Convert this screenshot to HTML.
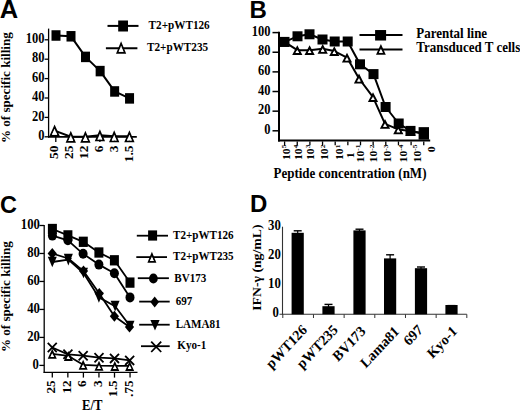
<!DOCTYPE html>
<html><head><meta charset="utf-8"><style>
html,body{margin:0;padding:0;background:#fff;}
svg{display:block;}
</style></head><body>
<svg width="520" height="411" viewBox="0 0 520 411">
<rect width="520" height="411" fill="#fff"/>
<text transform="translate(-0.20,17.80)" text-anchor="start" style="font-family:'Liberation Sans',sans-serif;font-weight:bold;font-size:25.5px" >A</text>
<text transform="translate(249.60,18.30)" text-anchor="start" style="font-family:'Liberation Sans',sans-serif;font-weight:bold;font-size:24px" >B</text>
<text transform="translate(0.00,212.60)" text-anchor="start" style="font-family:'Liberation Sans',sans-serif;font-weight:bold;font-size:23.5px" >C</text>
<text transform="translate(249.90,212.40)" text-anchor="start" style="font-family:'Liberation Sans',sans-serif;font-weight:bold;font-size:24px" >D</text>
<line x1="48.6" y1="28.6" x2="48.6" y2="137.5" stroke="#000" stroke-width="1.3"/>
<line x1="48.0" y1="136.8" x2="136.8" y2="136.8" stroke="#000" stroke-width="1.8"/>
<line x1="44.6" y1="136.8" x2="48.6" y2="136.8" stroke="#000" stroke-width="1.3"/>
<text transform="translate(44.60,140.00) scale(1,1.13)" text-anchor="end" style="font-family:'Liberation Serif',serif;font-weight:bold;font-size:12.5px" >0</text>
<line x1="44.6" y1="117.4" x2="48.6" y2="117.4" stroke="#000" stroke-width="1.3"/>
<text transform="translate(44.60,120.60) scale(1,1.13)" text-anchor="end" style="font-family:'Liberation Serif',serif;font-weight:bold;font-size:12.5px" >20</text>
<line x1="44.6" y1="98.00" x2="48.6" y2="98.00" stroke="#000" stroke-width="1.3"/>
<text transform="translate(44.60,101.20) scale(1,1.13)" text-anchor="end" style="font-family:'Liberation Serif',serif;font-weight:bold;font-size:12.5px" >40</text>
<line x1="44.6" y1="78.60" x2="48.6" y2="78.60" stroke="#000" stroke-width="1.3"/>
<text transform="translate(44.60,81.80) scale(1,1.13)" text-anchor="end" style="font-family:'Liberation Serif',serif;font-weight:bold;font-size:12.5px" >60</text>
<line x1="44.6" y1="59.20" x2="48.6" y2="59.20" stroke="#000" stroke-width="1.3"/>
<text transform="translate(44.60,62.40) scale(1,1.13)" text-anchor="end" style="font-family:'Liberation Serif',serif;font-weight:bold;font-size:12.5px" >80</text>
<line x1="44.6" y1="39.80" x2="48.6" y2="39.80" stroke="#000" stroke-width="1.3"/>
<text transform="translate(44.60,43.00) scale(1,1.13)" text-anchor="end" style="font-family:'Liberation Serif',serif;font-weight:bold;font-size:12.5px" >100</text>
<line x1="55.8" y1="137" x2="55.8" y2="142" stroke="#000" stroke-width="1.3"/>
<text transform="translate(58.40,145.60) scale(1,1.13) rotate(-90)" text-anchor="end" style="font-family:'Liberation Serif',serif;font-weight:bold;font-size:11.8px" >50</text>
<line x1="70.5" y1="137" x2="70.5" y2="142" stroke="#000" stroke-width="1.3"/>
<text transform="translate(73.26,145.60) scale(1,1.13) rotate(-90)" text-anchor="end" style="font-family:'Liberation Serif',serif;font-weight:bold;font-size:11.8px" >25</text>
<line x1="85.19" y1="137" x2="85.19" y2="142" stroke="#000" stroke-width="1.3"/>
<text transform="translate(88.12,145.60) scale(1,1.13) rotate(-90)" text-anchor="end" style="font-family:'Liberation Serif',serif;font-weight:bold;font-size:11.8px" >12</text>
<line x1="99.89" y1="137" x2="99.89" y2="142" stroke="#000" stroke-width="1.3"/>
<text transform="translate(102.98,145.60) scale(1,1.13) rotate(-90)" text-anchor="end" style="font-family:'Liberation Serif',serif;font-weight:bold;font-size:11.8px" >6</text>
<line x1="114.6" y1="137" x2="114.6" y2="142" stroke="#000" stroke-width="1.3"/>
<text transform="translate(117.84,145.60) scale(1,1.13) rotate(-90)" text-anchor="end" style="font-family:'Liberation Serif',serif;font-weight:bold;font-size:11.8px" >3</text>
<line x1="129.3" y1="137" x2="129.3" y2="142" stroke="#000" stroke-width="1.3"/>
<text transform="translate(132.70,145.60) scale(1,1.13) rotate(-90)" text-anchor="end" style="font-family:'Liberation Serif',serif;font-weight:bold;font-size:11.8px" >1.5</text>
<text transform="translate(9.60,143.10) scale(1,1.13) rotate(-90)" text-anchor="start" style="font-family:'Liberation Serif',serif;font-weight:bold;font-size:11.6px" >% of specific killing</text>
<polyline points="56,35.5 71,36.3 85.5,56.9 100.15,71.1 114.65,91.45 129.55,98.4" fill="none" stroke="#000" stroke-width="2" stroke-linejoin="round"/>
<rect x="51.5" y="30.25" width="9" height="10.5" fill="#000"/>
<rect x="66.5" y="31.04" width="9" height="10.5" fill="#000"/>
<rect x="81.0" y="51.65" width="9" height="10.5" fill="#000"/>
<rect x="95.65" y="65.85" width="9" height="10.5" fill="#000"/>
<rect x="110.15" y="86.2" width="9" height="10.5" fill="#000"/>
<rect x="125.05" y="93.15" width="9" height="10.5" fill="#000"/>
<polyline points="54.6,130.6 70.8,136.8 85.4,136.8 99.9,135.3 114.2,136.3 129.4,136.3" fill="none" stroke="#000" stroke-width="2" stroke-linejoin="round"/>
<path d="M54.60,124.60 L60.00,136.60 L49.20,136.60 Z M54.60,128.99 L57.22,134.80 L51.98,134.80 Z" fill="#000" fill-rule="evenodd"/>
<polygon points="54.60,128.99 57.22,134.80 51.98,134.80" fill="#fff"/>
<path d="M70.80,130.80 L75.95,142.80 L65.65,142.80 Z M70.80,135.36 L73.22,141.00 L68.38,141.00 Z" fill="#000" fill-rule="evenodd"/>
<polygon points="70.80,135.36 73.22,141.00 68.38,141.00" fill="#fff"/>
<path d="M85.40,130.80 L90.55,142.80 L80.25,142.80 Z M85.40,135.36 L87.82,141.00 L82.98,141.00 Z" fill="#000" fill-rule="evenodd"/>
<polygon points="85.40,135.36 87.82,141.00 82.98,141.00" fill="#fff"/>
<path d="M99.90,129.30 L105.05,141.30 L94.75,141.30 Z M99.90,133.86 L102.32,139.50 L97.48,139.50 Z" fill="#000" fill-rule="evenodd"/>
<polygon points="99.90,133.86 102.32,139.50 97.48,139.50" fill="#fff"/>
<path d="M114.20,130.30 L119.35,142.30 L109.05,142.30 Z M114.20,134.86 L116.62,140.50 L111.78,140.50 Z" fill="#000" fill-rule="evenodd"/>
<polygon points="114.20,134.86 116.62,140.50 111.78,140.50" fill="#fff"/>
<path d="M129.40,130.30 L134.55,142.30 L124.25,142.30 Z M129.40,134.86 L131.82,140.50 L126.98,140.50 Z" fill="#000" fill-rule="evenodd"/>
<polygon points="129.40,134.86 131.82,140.50 126.98,140.50" fill="#fff"/>
<line x1="107.5" y1="25.9" x2="138.5" y2="25.9" stroke="#000" stroke-width="2"/>
<rect x="118.19" y="20.5" width="9.8" height="11" fill="#000"/>
<text transform="translate(148.60,28.60) scale(1,1.13)" text-anchor="start" style="font-family:'Liberation Serif',serif;font-weight:bold;font-size:11.2px" >T2+pWT126</text>
<line x1="105.9" y1="48.2" x2="137.4" y2="48.2" stroke="#000" stroke-width="2"/>
<path d="M121.10,41.35 L126.20,53.65 L116.00,53.65 Z M121.10,46.05 L123.51,51.85 L118.69,51.85 Z" fill="#000" fill-rule="evenodd"/>
<polygon points="121.10,46.05 123.51,51.85 118.69,51.85" fill="#fff"/>
<text transform="translate(147.00,51.40) scale(1,1.13)" text-anchor="start" style="font-family:'Liberation Serif',serif;font-weight:bold;font-size:11.2px" >T2+pWT235</text>
<line x1="279.0" y1="31.8" x2="279.0" y2="141.4" stroke="#000" stroke-width="2.0"/>
<line x1="278.0" y1="140.4" x2="430.2" y2="140.4" stroke="#000" stroke-width="2.0"/>
<line x1="272.5" y1="32.6" x2="279.0" y2="32.6" stroke="#000" stroke-width="1.5"/>
<text transform="translate(270.40,35.80) scale(1,1.13)" text-anchor="end" style="font-family:'Liberation Serif',serif;font-weight:bold;font-size:12.5px" >100</text>
<line x1="272.5" y1="52.24" x2="279.0" y2="52.24" stroke="#000" stroke-width="1.5"/>
<text transform="translate(270.40,55.44) scale(1,1.13)" text-anchor="end" style="font-family:'Liberation Serif',serif;font-weight:bold;font-size:12.5px" >80</text>
<line x1="272.5" y1="71.88" x2="279.0" y2="71.88" stroke="#000" stroke-width="1.5"/>
<text transform="translate(270.40,75.08) scale(1,1.13)" text-anchor="end" style="font-family:'Liberation Serif',serif;font-weight:bold;font-size:12.5px" >60</text>
<line x1="272.5" y1="91.52" x2="279.0" y2="91.52" stroke="#000" stroke-width="1.5"/>
<text transform="translate(270.40,94.72) scale(1,1.13)" text-anchor="end" style="font-family:'Liberation Serif',serif;font-weight:bold;font-size:12.5px" >40</text>
<line x1="272.5" y1="111.16" x2="279.0" y2="111.16" stroke="#000" stroke-width="1.5"/>
<text transform="translate(270.40,114.36) scale(1,1.13)" text-anchor="end" style="font-family:'Liberation Serif',serif;font-weight:bold;font-size:12.5px" >20</text>
<line x1="272.5" y1="130.8" x2="279.0" y2="130.8" stroke="#000" stroke-width="1.5"/>
<text transform="translate(270.40,134.00) scale(1,1.13)" text-anchor="end" style="font-family:'Liberation Serif',serif;font-weight:bold;font-size:12.5px" >0</text>
<line x1="284.6" y1="141.4" x2="284.6" y2="145.3" stroke="#000" stroke-width="1.3"/>
<line x1="297.25" y1="141.4" x2="297.25" y2="145.3" stroke="#000" stroke-width="1.3"/>
<line x1="309.90" y1="141.4" x2="309.90" y2="145.3" stroke="#000" stroke-width="1.3"/>
<line x1="322.55" y1="141.4" x2="322.55" y2="145.3" stroke="#000" stroke-width="1.3"/>
<line x1="335.20" y1="141.4" x2="335.20" y2="145.3" stroke="#000" stroke-width="1.3"/>
<line x1="347.85" y1="141.4" x2="347.85" y2="145.3" stroke="#000" stroke-width="1.3"/>
<line x1="360.5" y1="141.4" x2="360.5" y2="145.3" stroke="#000" stroke-width="1.3"/>
<line x1="373.15" y1="141.4" x2="373.15" y2="145.3" stroke="#000" stroke-width="1.3"/>
<line x1="385.8" y1="141.4" x2="385.8" y2="145.3" stroke="#000" stroke-width="1.3"/>
<line x1="398.45" y1="141.4" x2="398.45" y2="145.3" stroke="#000" stroke-width="1.3"/>
<line x1="411.1" y1="141.4" x2="411.1" y2="145.3" stroke="#000" stroke-width="1.3"/>
<line x1="423.75" y1="141.4" x2="423.75" y2="145.3" stroke="#000" stroke-width="1.3"/>
<text transform="translate(289.88,144.6) scale(1,1.13) rotate(-90)" text-anchor="end" style="font-family:'Liberation Serif',serif;font-weight:bold;font-size:10.3px">10<tspan dy="-3.8" style="font-size:6.6px">5</tspan></text>
<text transform="translate(301.88,144.6) scale(1,1.13) rotate(-90)" text-anchor="end" style="font-family:'Liberation Serif',serif;font-weight:bold;font-size:10.3px">10<tspan dy="-3.8" style="font-size:6.6px">4</tspan></text>
<text transform="translate(314.18,144.6) scale(1,1.13) rotate(-90)" text-anchor="end" style="font-family:'Liberation Serif',serif;font-weight:bold;font-size:10.3px">10<tspan dy="-3.8" style="font-size:6.6px">3</tspan></text>
<text transform="translate(328.48,144.6) scale(1,1.13) rotate(-90)" text-anchor="end" style="font-family:'Liberation Serif',serif;font-weight:bold;font-size:10.3px">10<tspan dy="-3.8" style="font-size:6.6px">2</tspan></text>
<text transform="translate(343.38,144.6) scale(1,1.13) rotate(-90)" text-anchor="end" style="font-family:'Liberation Serif',serif;font-weight:bold;font-size:10.3px">10<tspan dy="-3.8" style="font-size:6.6px">1</tspan></text>
<text transform="translate(364.18,144.6) scale(1,1.13) rotate(-90)" text-anchor="end" style="font-family:'Liberation Serif',serif;font-weight:bold;font-size:10.3px">10<tspan dy="-3.8" style="font-size:6.6px">-1</tspan></text>
<text transform="translate(377.38,144.6) scale(1,1.13) rotate(-90)" text-anchor="end" style="font-family:'Liberation Serif',serif;font-weight:bold;font-size:10.3px">10<tspan dy="-3.8" style="font-size:6.6px">-2</tspan></text>
<text transform="translate(391.38,144.6) scale(1,1.13) rotate(-90)" text-anchor="end" style="font-family:'Liberation Serif',serif;font-weight:bold;font-size:10.3px">10<tspan dy="-3.8" style="font-size:6.6px">-3</tspan></text>
<text transform="translate(406.68,144.6) scale(1,1.13) rotate(-90)" text-anchor="end" style="font-family:'Liberation Serif',serif;font-weight:bold;font-size:10.3px">10<tspan dy="-3.8" style="font-size:6.6px">-4</tspan></text>
<text transform="translate(420.88,144.6) scale(1,1.13) rotate(-90)" text-anchor="end" style="font-family:'Liberation Serif',serif;font-weight:bold;font-size:10.3px">10<tspan dy="-3.8" style="font-size:6.6px">-5</tspan></text>
<text transform="translate(354.00,155.30) scale(1,1.13) rotate(-90)" text-anchor="middle" style="font-family:'Liberation Serif',serif;font-weight:bold;font-size:10.5px" >1</text>
<text transform="translate(435.20,149.40) scale(1,1.13) rotate(-90)" text-anchor="middle" style="font-family:'Liberation Serif',serif;font-weight:bold;font-size:10.5px" >0</text>
<text transform="translate(273.50,178.20) scale(1,1.13)" text-anchor="start" style="font-family:'Liberation Serif',serif;font-weight:bold;font-size:13.0px" >Peptide concentration (nM)</text>
<polyline points="284.5,41.9 297.3,50.2 309.6,50.2 322.7,48.8 334.3,51.1 347,57.6 359,78.5 373,97.1 385,123.9 398.3,129.4 410.5,131 423.9,133.8" fill="none" stroke="#000" stroke-width="2" stroke-linejoin="round"/>
<polyline points="284.5,41.9 297.5,36.3 309.5,34.3 322.5,39.5 334.7,41.5 347.7,41.5 360,64.3 373.5,74.1 385.6,107 398.7,123.5 410.5,130.9 423.8,133.4" fill="none" stroke="#000" stroke-width="2" stroke-linejoin="round"/>
<path d="M284.50,37.00 L289.60,46.80 L279.40,46.80 Z M284.50,41.33 L286.30,44.80 L282.70,44.80 Z" fill="#000" fill-rule="evenodd"/>
<polygon points="284.50,41.33 286.30,44.80 282.70,44.80" fill="#fff"/>
<path d="M297.30,45.30 L302.40,55.10 L292.20,55.10 Z M297.30,49.63 L299.10,53.10 L295.50,53.10 Z" fill="#000" fill-rule="evenodd"/>
<polygon points="297.30,49.63 299.10,53.10 295.50,53.10" fill="#fff"/>
<path d="M309.60,45.30 L314.70,55.10 L304.50,55.10 Z M309.60,49.63 L311.40,53.10 L307.80,53.10 Z" fill="#000" fill-rule="evenodd"/>
<polygon points="309.60,49.63 311.40,53.10 307.80,53.10" fill="#fff"/>
<path d="M322.70,43.90 L327.80,53.70 L317.60,53.70 Z M322.70,48.23 L324.50,51.70 L320.90,51.70 Z" fill="#000" fill-rule="evenodd"/>
<polygon points="322.70,48.23 324.50,51.70 320.90,51.70" fill="#fff"/>
<path d="M334.30,46.20 L339.40,56.00 L329.20,56.00 Z M334.30,50.53 L336.10,54.00 L332.50,54.00 Z" fill="#000" fill-rule="evenodd"/>
<polygon points="334.30,50.53 336.10,54.00 332.50,54.00" fill="#fff"/>
<path d="M347.00,52.70 L352.10,62.50 L341.90,62.50 Z M347.00,57.03 L348.80,60.50 L345.20,60.50 Z" fill="#000" fill-rule="evenodd"/>
<polygon points="347.00,57.03 348.80,60.50 345.20,60.50" fill="#fff"/>
<path d="M359.00,73.60 L364.10,83.40 L353.90,83.40 Z M359.00,77.93 L360.80,81.40 L357.20,81.40 Z" fill="#000" fill-rule="evenodd"/>
<polygon points="359.00,77.93 360.80,81.40 357.20,81.40" fill="#fff"/>
<path d="M373.00,92.20 L378.10,102.00 L367.90,102.00 Z M373.00,96.53 L374.80,100.00 L371.20,100.00 Z" fill="#000" fill-rule="evenodd"/>
<polygon points="373.00,96.53 374.80,100.00 371.20,100.00" fill="#fff"/>
<path d="M385.00,119.00 L390.10,128.80 L379.90,128.80 Z M385.00,123.33 L386.80,126.80 L383.20,126.80 Z" fill="#000" fill-rule="evenodd"/>
<polygon points="385.00,123.33 386.80,126.80 383.20,126.80" fill="#fff"/>
<path d="M398.30,124.50 L403.40,134.30 L393.20,134.30 Z M398.30,128.83 L400.10,132.30 L396.50,132.30 Z" fill="#000" fill-rule="evenodd"/>
<polygon points="398.30,128.83 400.10,132.30 396.50,132.30" fill="#fff"/>
<path d="M410.50,126.10 L415.60,135.90 L405.40,135.90 Z M410.50,130.43 L412.30,133.90 L408.70,133.90 Z" fill="#000" fill-rule="evenodd"/>
<polygon points="410.50,130.43 412.30,133.90 408.70,133.90" fill="#fff"/>
<path d="M423.90,128.90 L429.00,138.70 L418.80,138.70 Z M423.90,133.23 L425.70,136.70 L422.10,136.70 Z" fill="#000" fill-rule="evenodd"/>
<polygon points="423.90,133.23 425.70,136.70 422.10,136.70" fill="#fff"/>
<rect x="279.5" y="36.9" width="10" height="10" fill="#000"/>
<rect x="292.5" y="31.29" width="10" height="10" fill="#000"/>
<rect x="304.5" y="29.29" width="10" height="10" fill="#000"/>
<rect x="317.5" y="34.5" width="10" height="10" fill="#000"/>
<rect x="329.7" y="36.5" width="10" height="10" fill="#000"/>
<rect x="342.7" y="36.5" width="10" height="10" fill="#000"/>
<rect x="355.0" y="59.3" width="10" height="10" fill="#000"/>
<rect x="368.5" y="69.1" width="10" height="10" fill="#000"/>
<rect x="380.6" y="102.0" width="10" height="10" fill="#000"/>
<rect x="393.7" y="118.5" width="10" height="10" fill="#000"/>
<rect x="405.5" y="125.9" width="10" height="10" fill="#000"/>
<rect x="418.6" y="127.15" width="10.4" height="12.5" fill="#000"/>
<line x1="359.5" y1="35" x2="402.5" y2="35" stroke="#000" stroke-width="2"/>
<rect x="375.1" y="30.04" width="11" height="10.5" fill="#000"/>
<text transform="translate(416.30,38.30) scale(1,1.13)" text-anchor="start" style="font-family:'Liberation Serif',serif;font-weight:bold;font-size:13px" >Parental line</text>
<line x1="359.5" y1="49.5" x2="402.5" y2="49.5" stroke="#000" stroke-width="2"/>
<path d="M380.90,44.10 L385.80,54.70 L376.00,54.70 Z M380.90,48.63 L382.83,52.80 L378.97,52.80 Z" fill="#000" fill-rule="evenodd"/>
<polygon points="380.90,48.63 382.83,52.80 378.97,52.80" fill="#fff"/>
<text transform="translate(416.30,52.40) scale(1,1.13)" text-anchor="start" style="font-family:'Liberation Serif',serif;font-weight:bold;font-size:13px" >Transduced T cells</text>
<line x1="44.2" y1="225.0" x2="44.2" y2="373.0" stroke="#000" stroke-width="1.3"/>
<line x1="43.6" y1="372.4" x2="137.5" y2="372.4" stroke="#000" stroke-width="1.4"/>
<line x1="39.4" y1="225.5" x2="44.2" y2="225.5" stroke="#000" stroke-width="1.3"/>
<text transform="translate(39.90,228.70) scale(1,1.13)" text-anchor="end" style="font-family:'Liberation Serif',serif;font-weight:bold;font-size:12.7px" >100</text>
<line x1="39.4" y1="253.48" x2="44.2" y2="253.48" stroke="#000" stroke-width="1.3"/>
<text transform="translate(39.90,256.68) scale(1,1.13)" text-anchor="end" style="font-family:'Liberation Serif',serif;font-weight:bold;font-size:12.7px" >80</text>
<line x1="39.4" y1="281.46" x2="44.2" y2="281.46" stroke="#000" stroke-width="1.3"/>
<text transform="translate(39.90,284.66) scale(1,1.13)" text-anchor="end" style="font-family:'Liberation Serif',serif;font-weight:bold;font-size:12.7px" >60</text>
<line x1="39.4" y1="309.44" x2="44.2" y2="309.44" stroke="#000" stroke-width="1.3"/>
<text transform="translate(39.90,312.64) scale(1,1.13)" text-anchor="end" style="font-family:'Liberation Serif',serif;font-weight:bold;font-size:12.7px" >40</text>
<line x1="39.4" y1="337.42" x2="44.2" y2="337.42" stroke="#000" stroke-width="1.3"/>
<text transform="translate(39.90,340.62) scale(1,1.13)" text-anchor="end" style="font-family:'Liberation Serif',serif;font-weight:bold;font-size:12.7px" >20</text>
<line x1="39.4" y1="365.4" x2="44.2" y2="365.4" stroke="#000" stroke-width="1.3"/>
<text transform="translate(38.80,368.60) scale(1,1.13)" text-anchor="end" style="font-family:'Liberation Serif',serif;font-weight:bold;font-size:12.7px" >0</text>
<line x1="52.3" y1="372.5" x2="52.3" y2="377.6" stroke="#000" stroke-width="1.3"/>
<text transform="translate(55.40,380.40) scale(1,1.13) rotate(-90)" text-anchor="end" style="font-family:'Liberation Serif',serif;font-weight:bold;font-size:11.7px" >25</text>
<line x1="67.85" y1="372.5" x2="67.85" y2="377.6" stroke="#000" stroke-width="1.3"/>
<text transform="translate(70.90,380.40) scale(1,1.13) rotate(-90)" text-anchor="end" style="font-family:'Liberation Serif',serif;font-weight:bold;font-size:11.7px" >12</text>
<line x1="83.4" y1="372.5" x2="83.4" y2="377.6" stroke="#000" stroke-width="1.3"/>
<text transform="translate(86.40,380.40) scale(1,1.13) rotate(-90)" text-anchor="end" style="font-family:'Liberation Serif',serif;font-weight:bold;font-size:11.7px" >6</text>
<line x1="98.95" y1="372.5" x2="98.95" y2="377.6" stroke="#000" stroke-width="1.3"/>
<text transform="translate(101.90,380.40) scale(1,1.13) rotate(-90)" text-anchor="end" style="font-family:'Liberation Serif',serif;font-weight:bold;font-size:11.7px" >3</text>
<line x1="114.5" y1="372.5" x2="114.5" y2="377.6" stroke="#000" stroke-width="1.3"/>
<text transform="translate(117.40,380.40) scale(1,1.13) rotate(-90)" text-anchor="end" style="font-family:'Liberation Serif',serif;font-weight:bold;font-size:11.7px" >1.5</text>
<line x1="130.05" y1="372.5" x2="130.05" y2="377.6" stroke="#000" stroke-width="1.3"/>
<text transform="translate(132.90,380.40) scale(1,1.13) rotate(-90)" text-anchor="end" style="font-family:'Liberation Serif',serif;font-weight:bold;font-size:11.7px" >.75</text>
<text transform="translate(92.30,409.50) scale(1,1.13)" text-anchor="middle" style="font-family:'Liberation Serif',serif;font-weight:bold;font-size:12.7px" >E/T</text>
<text transform="translate(9.80,352.10) scale(1,1.13) rotate(-90)" text-anchor="start" style="font-family:'Liberation Serif',serif;font-weight:bold;font-size:11.6px" >% of specific killing</text>
<polyline points="52.4,229 67.9,235.4 83.3,241.8 98.9,252.5 114.4,260.3 130,282.6" fill="none" stroke="#000" stroke-width="1.8" stroke-linejoin="round"/>
<polyline points="52.4,235.6 67.9,240.3 83.1,253.8 98.9,264.6 114.4,273.3 130,297.4" fill="none" stroke="#000" stroke-width="1.8" stroke-linejoin="round"/>
<polyline points="52.25,253.5 68.3,258.5 83.5,271.1 99.3,293.4 114.4,316.3 129.5,327" fill="none" stroke="#000" stroke-width="1.8" stroke-linejoin="round"/>
<polyline points="52.3,262 68.35,259.55 83.5,273 98.9,297.4 115.1,306.2 130,326" fill="none" stroke="#000" stroke-width="1.8" stroke-linejoin="round"/>
<polyline points="52.25,347.5 67.9,354.3 83.15,355.7 99,357.7 114.5,358.4 129.65,360.4" fill="none" stroke="#000" stroke-width="1.8" stroke-linejoin="round"/>
<polyline points="52.25,353.8 68.35,355.9 83.15,364.8 99,365.7 114.8,365.9 129.65,365.9" fill="none" stroke="#000" stroke-width="1.8" stroke-linejoin="round"/>
<rect x="47.9" y="223.85" width="9" height="10.3" fill="#000"/>
<rect x="63.40" y="230.25" width="9" height="10.3" fill="#000"/>
<rect x="78.8" y="236.65" width="9" height="10.3" fill="#000"/>
<rect x="94.4" y="247.35" width="9" height="10.3" fill="#000"/>
<rect x="109.9" y="255.15" width="9" height="10.3" fill="#000"/>
<rect x="125.5" y="277.45" width="9" height="10.3" fill="#000"/>
<path d="M52.25,348.80 L56.75,358.80 L47.75,358.80 Z M52.25,353.19 L53.97,357.00 L50.53,357.00 Z" fill="#000" fill-rule="evenodd"/>
<polygon points="52.25,353.19 53.97,357.00 50.53,357.00" fill="#fff"/>
<path d="M68.35,350.90 L72.85,360.90 L63.85,360.90 Z M68.35,355.29 L70.07,359.10 L66.63,359.10 Z" fill="#000" fill-rule="evenodd"/>
<polygon points="68.35,355.29 70.07,359.10 66.63,359.10" fill="#fff"/>
<path d="M83.15,359.80 L87.65,369.80 L78.65,369.80 Z M83.15,364.19 L84.87,368.00 L81.43,368.00 Z" fill="#000" fill-rule="evenodd"/>
<polygon points="83.15,364.19 84.87,368.00 81.43,368.00" fill="#fff"/>
<path d="M99.00,360.70 L103.50,370.70 L94.50,370.70 Z M99.00,365.09 L100.72,368.90 L97.28,368.90 Z" fill="#000" fill-rule="evenodd"/>
<polygon points="99.00,365.09 100.72,368.90 97.28,368.90" fill="#fff"/>
<path d="M114.80,360.90 L119.30,370.90 L110.30,370.90 Z M114.80,365.29 L116.52,369.10 L113.08,369.10 Z" fill="#000" fill-rule="evenodd"/>
<polygon points="114.80,365.29 116.52,369.10 113.08,369.10" fill="#fff"/>
<path d="M129.65,360.90 L134.15,370.90 L125.15,370.90 Z M129.65,365.29 L131.37,369.10 L127.93,369.10 Z" fill="#000" fill-rule="evenodd"/>
<polygon points="129.65,365.29 131.37,369.10 127.93,369.10" fill="#fff"/>
<ellipse cx="52.4" cy="235.6" rx="4.5" ry="5.0" fill="#000"/>
<ellipse cx="67.9" cy="240.3" rx="4.5" ry="5.0" fill="#000"/>
<ellipse cx="83.1" cy="253.8" rx="4.5" ry="5.0" fill="#000"/>
<ellipse cx="98.9" cy="264.6" rx="4.5" ry="5.0" fill="#000"/>
<ellipse cx="114.4" cy="273.3" rx="4.5" ry="5.0" fill="#000"/>
<ellipse cx="130" cy="297.4" rx="4.5" ry="5.0" fill="#000"/>
<polygon points="52.25,248.0 56.85,253.5 52.25,259.0 47.65,253.5" fill="#000"/>
<polygon points="68.3,254.5 71.8,258.5 68.3,262.5 64.8,258.5" fill="#000"/>
<polygon points="83.5,265.6 88.1,271.1 83.5,276.6 78.9,271.1" fill="#000"/>
<polygon points="99.3,287.9 103.89,293.4 99.3,298.9 94.7,293.4" fill="#000"/>
<polygon points="114.4,310.8 119.0,316.3 114.4,321.8 109.80,316.3" fill="#000"/>
<polygon points="129.5,321.5 134.1,327 129.5,332.5 124.9,327" fill="#000"/>
<polygon points="47.8,256.65 56.8,256.65 52.3,267.35" fill="#000"/>
<polygon points="63.84,253.70 72.85,253.70 68.35,265.40" fill="#000"/>
<polygon points="79.0,267.65 88.0,267.65 83.5,278.35" fill="#000"/>
<polygon points="94.4,292.04 103.4,292.04 98.9,302.75" fill="#000"/>
<polygon points="110.6,300.84 119.6,300.84 115.1,311.55" fill="#000"/>
<polygon points="125.5,320.65 134.5,320.65 130,331.35" fill="#000"/>
<path d="M47.75 342.9L56.75 352.1M56.75 342.9L47.75 352.1" stroke="#000" stroke-width="1.8" fill="none"/>
<path d="M63.40 349.7L72.4 358.90M72.4 349.7L63.40 358.90" stroke="#000" stroke-width="1.8" fill="none"/>
<path d="M78.65 351.09L87.65 360.3M87.65 351.09L78.65 360.3" stroke="#000" stroke-width="1.8" fill="none"/>
<path d="M94.5 353.09L103.5 362.3M103.5 353.09L94.5 362.3" stroke="#000" stroke-width="1.8" fill="none"/>
<path d="M110.0 353.79L119.0 363.0M119.0 353.79L110.0 363.0" stroke="#000" stroke-width="1.8" fill="none"/>
<path d="M125.15 355.79L134.15 365.0M134.15 355.79L125.15 365.0" stroke="#000" stroke-width="1.8" fill="none"/>
<line x1="136.8" y1="235.7" x2="168" y2="235.7" stroke="#000" stroke-width="1.8"/>
<rect x="148.1" y="230.4" width="9" height="10.2" fill="#000"/>
<text transform="translate(173.10,238.80) scale(1,1.13)" text-anchor="start" style="font-family:'Liberation Serif',serif;font-weight:bold;font-size:11.1px" >T2+pWT126</text>
<line x1="136.3" y1="257.1" x2="167" y2="257.1" stroke="#000" stroke-width="1.8"/>
<path d="M151.90,251.70 L156.40,262.70 L147.40,262.70 Z M151.90,256.45 L153.72,260.90 L150.08,260.90 Z" fill="#000" fill-rule="evenodd"/>
<polygon points="151.90,256.45 153.72,260.90 150.08,260.90" fill="#fff"/>
<text transform="translate(173.00,260.00) scale(1,1.13)" text-anchor="start" style="font-family:'Liberation Serif',serif;font-weight:bold;font-size:11.1px" >T2+pWT235</text>
<line x1="137.8" y1="278.2" x2="168.9" y2="278.2" stroke="#000" stroke-width="1.8"/>
<ellipse cx="153.4" cy="278.5" rx="4.4" ry="5.1" fill="#000"/>
<text transform="translate(174.30,281.50) scale(1,1.13)" text-anchor="start" style="font-family:'Liberation Serif',serif;font-weight:bold;font-size:11.1px" >BV173</text>
<line x1="139.2" y1="301.6" x2="169.7" y2="301.6" stroke="#000" stroke-width="1.8"/>
<polygon points="154.7,296.6 159.04,302.1 154.7,307.6 150.35,302.1" fill="#000"/>
<text transform="translate(175.70,304.60) scale(1,1.13)" text-anchor="start" style="font-family:'Liberation Serif',serif;font-weight:bold;font-size:11.1px" >697</text>
<line x1="139.2" y1="324.7" x2="169.7" y2="324.7" stroke="#000" stroke-width="1.8"/>
<polygon points="150.35,319.9 159.65,319.9 155.0,330.5" fill="#000"/>
<text transform="translate(175.70,328.20) scale(1,1.13)" text-anchor="start" style="font-family:'Liberation Serif',serif;font-weight:bold;font-size:11.1px" >LAMA81</text>
<line x1="141" y1="346.2" x2="169.7" y2="346.2" stroke="#000" stroke-width="1.8"/>
<path d="M151.2 341.6L161.2 352.0M161.2 341.6L151.2 352.0" stroke="#000" stroke-width="1.8" fill="none"/>
<text transform="translate(177.30,349.20) scale(1,1.13)" text-anchor="start" style="font-family:'Liberation Serif',serif;font-weight:bold;font-size:11.1px" >Kyo-1</text>
<line x1="282.5" y1="226.7" x2="282.5" y2="314.8" stroke="#333" stroke-width="1.1"/>
<line x1="279.5" y1="314.3" x2="466.8" y2="314.3" stroke="#333" stroke-width="1.1"/>
<line x1="282.8" y1="314.3" x2="282.8" y2="318" stroke="#333" stroke-width="1.0"/>
<line x1="313.47" y1="314.3" x2="313.47" y2="318" stroke="#333" stroke-width="1.0"/>
<line x1="344.14" y1="314.3" x2="344.14" y2="318" stroke="#333" stroke-width="1.0"/>
<line x1="374.81" y1="314.3" x2="374.81" y2="318" stroke="#333" stroke-width="1.0"/>
<line x1="405.48" y1="314.3" x2="405.48" y2="318" stroke="#333" stroke-width="1.0"/>
<line x1="436.15" y1="314.3" x2="436.15" y2="318" stroke="#333" stroke-width="1.0"/>
<line x1="466.82" y1="314.3" x2="466.82" y2="318" stroke="#333" stroke-width="1.0"/>
<text transform="translate(280.90,230.10) scale(1,1.13)" text-anchor="end" style="font-family:'Liberation Serif',serif;font-weight:bold;font-size:12.8px" >30</text>
<text transform="translate(280.90,259.40) scale(1,1.13)" text-anchor="end" style="font-family:'Liberation Serif',serif;font-weight:bold;font-size:12.8px" >20</text>
<text transform="translate(280.90,287.90) scale(1,1.13)" text-anchor="end" style="font-family:'Liberation Serif',serif;font-weight:bold;font-size:12.8px" >10</text>
<text transform="translate(279.00,316.90) scale(1,1.13)" text-anchor="end" style="font-family:'Liberation Serif',serif;font-weight:bold;font-size:12.8px" >0</text>
<text transform="translate(261.40,310.80) scale(1,1.13) rotate(-90)" text-anchor="start" style="font-family:'Liberation Serif',serif;font-weight:bold;font-size:12.2px" >IFN-γ (ng/mL)</text>
<rect x="291.59" y="232.8" width="12.2" height="81.5" fill="#000"/>
<line x1="297.7" y1="230.8" x2="297.7" y2="233.8" stroke="#000" stroke-width="1.2"/>
<line x1="293.7" y1="230.8" x2="301.7" y2="230.8" stroke="#000" stroke-width="1.4"/>
<rect x="322.4" y="306.2" width="12.2" height="8.10" fill="#000"/>
<line x1="328.5" y1="304.4" x2="328.5" y2="307.2" stroke="#000" stroke-width="1.2"/>
<line x1="324.5" y1="304.4" x2="332.5" y2="304.4" stroke="#000" stroke-width="1.4"/>
<rect x="353.4" y="230.4" width="12.2" height="83.9" fill="#000"/>
<line x1="359.5" y1="229.2" x2="359.5" y2="231.4" stroke="#000" stroke-width="1.2"/>
<line x1="355.5" y1="229.2" x2="363.5" y2="229.2" stroke="#000" stroke-width="1.4"/>
<rect x="384.0" y="258.4" width="12.2" height="55.90" fill="#000"/>
<line x1="390.1" y1="254.8" x2="390.1" y2="259.4" stroke="#000" stroke-width="1.2"/>
<line x1="386.1" y1="254.8" x2="394.1" y2="254.8" stroke="#000" stroke-width="1.4"/>
<rect x="414.9" y="268.2" width="12.2" height="46.10" fill="#000"/>
<line x1="421" y1="267" x2="421" y2="269.2" stroke="#000" stroke-width="1.2"/>
<line x1="417" y1="267" x2="425" y2="267" stroke="#000" stroke-width="1.4"/>
<rect x="445.4" y="305.0" width="12.2" height="9.30" fill="#000"/>
<line x1="451.5" y1="305.6" x2="451.5" y2="306.0" stroke="#000" stroke-width="1.2"/>
<line x1="447.5" y1="305.6" x2="455.5" y2="305.6" stroke="#000" stroke-width="1.4"/>
<text transform="translate(307.80,330.70) scale(1,1.07) rotate(-45)" text-anchor="end" style="font-family:'Liberation Serif',serif;font-weight:bold;font-size:13.8px" >pWT126</text>
<text transform="translate(338.60,330.70) scale(1,1.07) rotate(-45)" text-anchor="end" style="font-family:'Liberation Serif',serif;font-weight:bold;font-size:13.8px" >pWT235</text>
<text transform="translate(366.30,332.10) scale(1,1.07) rotate(-45)" text-anchor="end" style="font-family:'Liberation Serif',serif;font-weight:bold;font-size:13.8px" >BV173</text>
<text transform="translate(399.90,332.20) scale(1,1.07) rotate(-45)" text-anchor="end" style="font-family:'Liberation Serif',serif;font-weight:bold;font-size:13.8px" >Lama81</text>
<text transform="translate(423.60,330.80) scale(1,1.07) rotate(-45)" text-anchor="end" style="font-family:'Liberation Serif',serif;font-weight:bold;font-size:13.8px" >697</text>
<text transform="translate(457.90,332.10) scale(1,1.07) rotate(-45)" text-anchor="end" style="font-family:'Liberation Serif',serif;font-weight:bold;font-size:13.8px" >Kyo-1</text>
</svg>
</body></html>
